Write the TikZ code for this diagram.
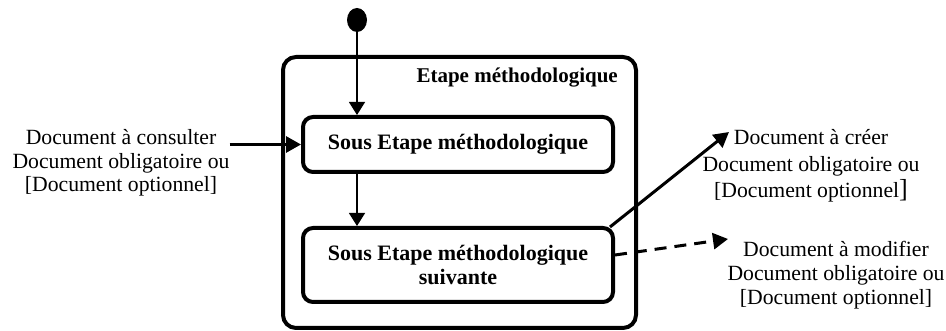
\documentclass[tikz,border=0pt]{standalone}
\usepackage{fontspec}
\setmainfont{Liberation Serif}
\usetikzlibrary{arrows.meta,shapes.geometric}

\tikzset{
  x=1pt, y=1pt,
  statebox/.style={draw, line width=4pt, rounded corners=10pt, minimum width=310pt,
    font=\fontsize{22}{24}\selectfont\bfseries, align=center, inner sep=0pt},
  outerbox/.style={draw, line width=4pt, rounded corners=13pt},
  % multi-line labels: the base anchor sits on the last line
  doclabel/.style={align=center, inner sep=0pt, anchor=base},
  thin arrow/.style={line width=1.3pt, -{Triangle[length=13pt,width=16pt]}},
  thick arrow/.style={line width=3pt, -{Triangle[length=15pt,width=16pt]}},
}

\begin{document}
\begin{tikzpicture}
  \useasboundingbox (0,0) rectangle (946,331);

  % composite state and its title
  \node[outerbox, minimum width=353pt, minimum height=271pt] (etape) at (459.5,138.5) {};
  \node[anchor=base east, inner sep=0pt, font=\fontsize{21}{21}\selectfont\bfseries]
    (titre) at (618,248) {Etape méthodologique};

  % initial pseudo-state
  \node[ellipse, fill=black, minimum width=20pt, minimum height=24pt, inner sep=0pt]
    (init) at (357,311) {};

  % sub-states
  \node[statebox, minimum height=55pt] (sous1) at (458,186.5) {Sous Etape méthodologique};
  \node[statebox, minimum height=74pt] (sous2) at (458,66)
    {Sous Etape méthodologique\\suivante};

  % documents
  \node[doclabel, font=\fontsize{21.7}{23.5}\selectfont] (consulter) at (121,139)
    {Document à consulter\\Document obligatoire ou\\{[}Document optionnel]};
  \node[doclabel, font=\fontsize{21.7}{26.5}\selectfont] (creer) at (811,133)
    {Document à créer\\Document obligatoire ou\\{[}Document optionnel{\fontsize{26}{26}\selectfont]}};
  \node[doclabel, font=\fontsize{21.7}{24}\selectfont] (modifier) at (836,26)
    {Document à modifier\\Document obligatoire ou\\{[}Document optionnel]};

  \coordinate (creerTip) at (729,199);
  \coordinate (modifTip) at (728,92);

  % transitions
  \draw[thin arrow] (init.south) -- (init.south |- sous1.north);
  \draw[thin arrow] (init |- sous1.south) -- (init |- sous2.north);
  \draw[thick arrow] (consulter.east |- sous1.west) -- (sous1.west);
  \draw[thick arrow] (sous2.north east) ++(-5,-1) -- (creerTip);
  \draw[thick arrow, dash pattern=on 12pt off 8pt] ([yshift=10pt]sous2.east) -- (modifTip);
\end{tikzpicture}
\end{document}
